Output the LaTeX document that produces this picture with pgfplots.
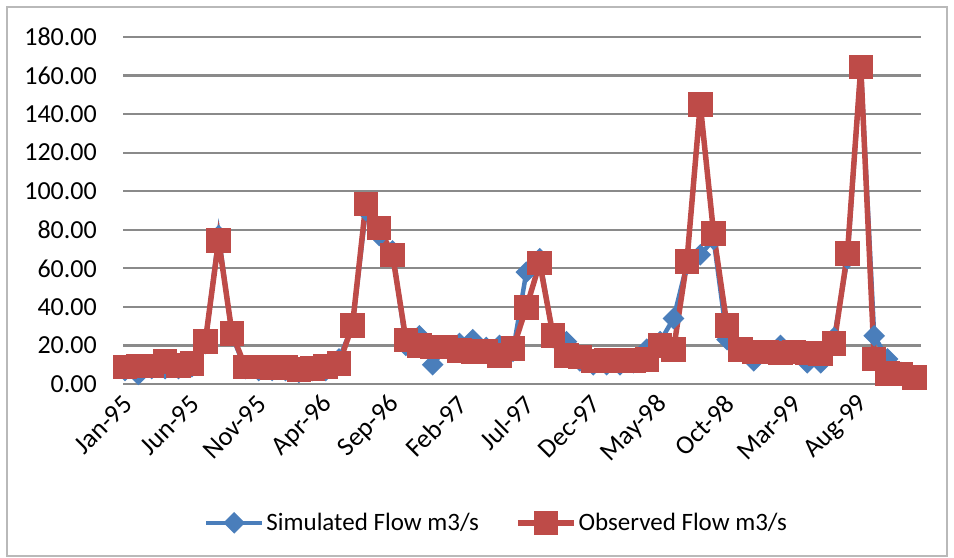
\documentclass[border=0pt]{standalone}
\usepackage{pgfplots}
\usepackage{pgfplotstable}
\pgfplotsset{compat=1.18}
\usepackage{fontspec}
\setmainfont{Carlito}
\definecolor{simblue}{HTML}{4A7EBB}
\definecolor{obsred}{HTML}{BE4B48}
\definecolor{gridgray}{HTML}{8A8A8A}
\pgfplotstableread{
idx obs sim
0 8.9 7
1 9.3 5
2 9.3 8
3 11.8 8
4 9.7 8
5 10.6 9
6 22 21
7 74.5 77
8 26.3 25
9 8.7 8
10 8.7 7
11 8.5 7
12 8.5 7
13 7.5 6
14 8 7
15 9.2 7
16 10.6 13
17 30.3 30
18 93.5 90
19 81 77
20 67 69
21 22.9 20
22 20 25
23 19.1 10
24 19.1 19
25 17.4 21
26 16.9 23
27 16.9 19
28 14.9 20
29 18.3 17
30 39.7 58
31 62.7 65
32 25.1 24
33 14.9 22
34 14 12
35 12 10
36 12.3 10
37 12.3 10
38 12.3 11
39 12.6 18
40 20 22
41 17.8 34
42 63.6 62
43 145 67
44 78 75
45 30.3 23
46 17.8 17
47 16.6 12
48 16.6 17
49 16.1 20
50 16.6 17
51 16.1 11
52 15.7 11
53 20.9 24
54 67.8 65
55 164.5 165
56 13 25
57 5.5 13
58 5.1 6
59 3.4 4
}\flowdata
\begin{document}
\begin{tikzpicture}
\useasboundingbox (0bp,0bp) rectangle (954bp,558bp);
\draw[gray!55, line width=1.2bp] (7bp,2bp) rectangle (947bp,551bp);
\begin{axis}[
  at={(123bp,174bp)}, anchor=south west,
  scale only axis, width=798bp, height=347bp,
  xmin=-0.15, xmax=59.5, ymin=0, ymax=180,
  enlargelimits=false, clip=false,
  axis line style={draw=none}, tick style={draw=none},
  ymajorgrids, grid style={gridgray, line width=2.2bp},
  ytick={0,20,...,180},
  xtick={0,5,...,55},
  xticklabels={Jan-95,Jun-95,Nov-95,Apr-96,Sep-96,Feb-97,Jul-97,Dec-97,May-98,Oct-98,Mar-99,Aug-99},
  yticklabel style={font=\fontsize{26bp}{30bp}\selectfont, inner sep=0pt, anchor=east, xshift=-26bp,
    /pgf/number format/.cd, fixed, fixed zerofill, precision=2, assume math mode=true},
  xticklabel style={font=\fontsize{26.5bp}{30bp}\selectfont, xshift=3bp, yshift=-16bp, rotate=45, anchor=east, inner sep=0pt},
  legend style={at={(0.468,-0.40)}, anchor=center, draw=none, fill=none,
    font=\fontsize{25bp}{30bp}\selectfont, legend columns=2,
    /tikz/every even column/.append style={column sep=34bp}},
  legend cell align=left,
  legend image code/.code={\draw[mark repeat=2, mark phase=2, #1] plot coordinates {(0bp,0bp) (28bp,0bp) (56bp,0bp)};},
]
\addplot[simblue, line width=4.5bp, mark=square*, mark size=5.4bp, mark options={rotate=45, solid}] table[x=idx, y=sim] {\flowdata};
\addlegendentry{Simulated Flow m3/s}
\addplot[obsred, line width=5.5bp, mark=square*, mark size=9.5bp, mark options={solid}] table[x=idx, y=obs] {\flowdata};
\addlegendentry{Observed Flow m3/s}
\end{axis}
\end{tikzpicture}
\end{document}
